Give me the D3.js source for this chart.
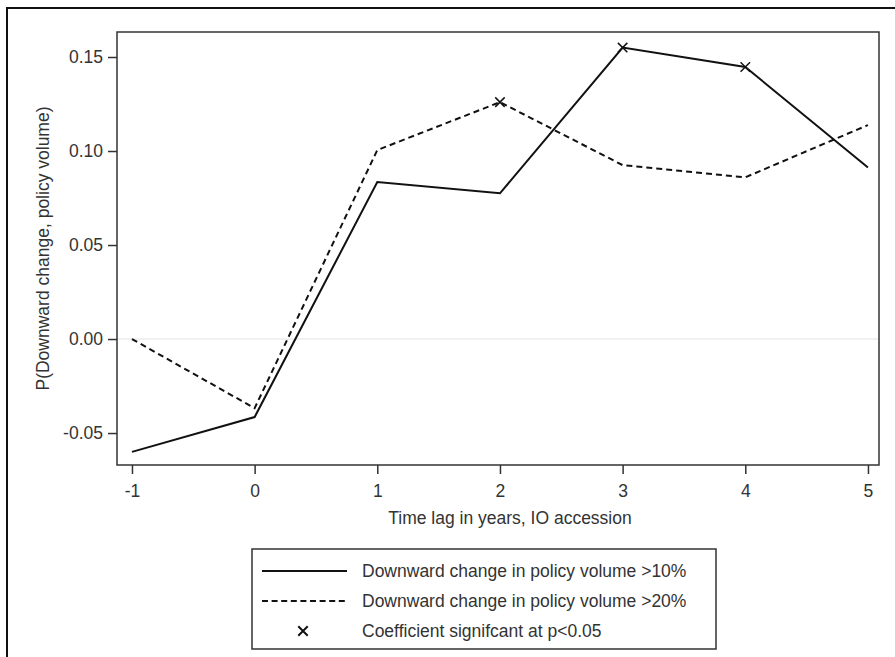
<!DOCTYPE html>
<html>
<head>
<meta charset="utf-8">
<script src="https://d3js.org/d3.v7.min.js"></script>
<style>
body { margin: 0; background: #fff; }
svg { display: block; font-family: "Liberation Sans", Arial, Helvetica, sans-serif; }
.axis text { fill: #333; font-size: 17.5px; }
.axis path, .axis line { stroke: #333; stroke-width: 1.5; }
</style>
</head>
<body>
<svg id="chart" width="895" height="657"></svg>
<script>
// time lag in years
var lags = [-1, 0, 1, 2, 3, 4, 5];
// downward change in policy volume >10%
var down10 = [-0.060, -0.0415, 0.0835, 0.0775, 0.155, 0.1447, 0.0912];
// downward change in policy volume >20%
var down20 = [0.000, -0.0368, 0.1005, 0.126, 0.0925, 0.086, 0.1138];
// significant coefficients (index into lags)
var sig10 = [4, 5];
var sig20 = [3];
var yTicks = [-0.05, 0, 0.05, 0.10, 0.15];
var legendLabels = ['Downward change in policy volume >10%', 'Downward change in policy volume >20%', 'Coefficient signifcant at p<0.05'];

var svg = d3.select('#chart');
var plot = {left: 117, right: 879, top: 32, bottom: 465};

var x = d3.scaleLinear().domain([-1.122, 5.09]).range([plot.left, plot.right]);
var y = d3.scaleLinear().domain([-0.067, 0.1633]).range([plot.bottom, plot.top]);

//outer frame, cropped at the right and bottom of the picture
svg.append('rect').attr('x', 7).attr('y', 8).attr('width', 900).attr('height', 700)
  .attr('fill', 'none').attr('stroke', '#111').attr('stroke-width', 2);

//zero line
svg.append('line').attr('x1', plot.left).attr('x2', plot.right).attr('y1', y(0)).attr('y2', y(0))
  .attr('stroke', '#e2e2e2').attr('stroke-width', 1);

//plot border
svg.append('rect').attr('x', plot.left).attr('y', plot.top)
  .attr('width', plot.right - plot.left).attr('height', plot.bottom - plot.top)
  .attr('fill', 'none').attr('stroke', '#333').attr('stroke-width', 1.5);

var xAxis = d3.axisBottom(x).tickValues(lags).tickSize(9).tickPadding(6).tickFormat(d3.format('d'));
var yAxis = d3.axisLeft(y).tickValues(yTicks).tickSize(9).tickPadding(5).tickFormat(d3.format('.2f'));

var gx = svg.append('g').attr('class', 'axis').attr('transform', 'translate(0,' + plot.bottom + ')').call(xAxis);
gx.select('.domain').remove();
gx.selectAll('text').attr('dy', '0.95em');
var gy = svg.append('g').attr('class', 'axis').attr('transform', 'translate(' + plot.left + ',0)').call(yAxis);
gy.select('.domain').remove();
// plain hyphen for negatives, like the original
gy.selectAll('text').text(function(d) { return d3.format('.2f')(d).replace('\u2212', '-'); });
gx.selectAll('text').text(function(d) { return String(d); });

//axis titles
svg.append('text').attr('x', 510).attr('y', 524).attr('text-anchor', 'middle')
  .attr('fill', '#333').style('font-size', '17.5px').text('Time lag in years, IO accession');
svg.append('text').attr('transform', 'translate(49,' + ((plot.top + plot.bottom) / 2) + ') rotate(-90)')
  .attr('text-anchor', 'middle').attr('fill', '#333').style('font-size', '17.5px')
  .text('P(Downward change, policy volume)');

var line = d3.line().x(function(d, i) { return x(lags[i]); }).y(function(d) { return y(d); });

svg.append('path').datum(down20).attr('fill', 'none').attr('stroke', '#111')
  .attr('stroke-width', 2).attr('stroke-dasharray', '6,4').attr('d', line);
svg.append('path').datum(down10).attr('fill', 'none').attr('stroke', '#111')
  .attr('stroke-width', 2).attr('d', line);

//significance markers
var xSym = d3.symbol().type(d3.symbolX).size(60);
var marks = sig10.map(function(i) { return [lags[i], down10[i]]; })
  .concat(sig20.map(function(i) { return [lags[i], down20[i]]; }));
svg.selectAll('path.mark').data(marks).enter().append('path').attr('class', 'mark')
  .attr('d', xSym).attr('transform', function(d) { return 'translate(' + x(d[0]) + ',' + y(d[1]) + ')'; })
  .attr('fill', 'none').attr('stroke', '#111').attr('stroke-width', 1.5);

//legend
var legend = svg.append('g');
legend.append('rect').attr('x', 252).attr('y', 549).attr('width', 464).attr('height', 100)
  .attr('fill', 'none').attr('stroke', '#333').attr('stroke-width', 1.5);
var rowY = [571, 601, 631];
legend.append('line').attr('x1', 262).attr('x2', 347).attr('y1', rowY[0]).attr('y2', rowY[0])
  .attr('stroke', '#111').attr('stroke-width', 2);
legend.append('line').attr('x1', 262).attr('x2', 347).attr('y1', rowY[1]).attr('y2', rowY[1])
  .attr('stroke', '#111').attr('stroke-width', 2).attr('stroke-dasharray', '6,3.6');
legend.append('path').attr('d', xSym).attr('transform', 'translate(303,' + rowY[2] + ')')
  .attr('fill', 'none').attr('stroke', '#111').attr('stroke-width', 2);
legend.selectAll('text.lab').data(legendLabels).enter().append('text').attr('class', 'lab')
  .attr('x', 362).attr('y', function(d, i) { return rowY[i]; }).attr('dy', '0.35em')
  .attr('fill', '#333').style('font-size', '17.5px').text(function(d) { return d; });
</script>
</body>
</html>
